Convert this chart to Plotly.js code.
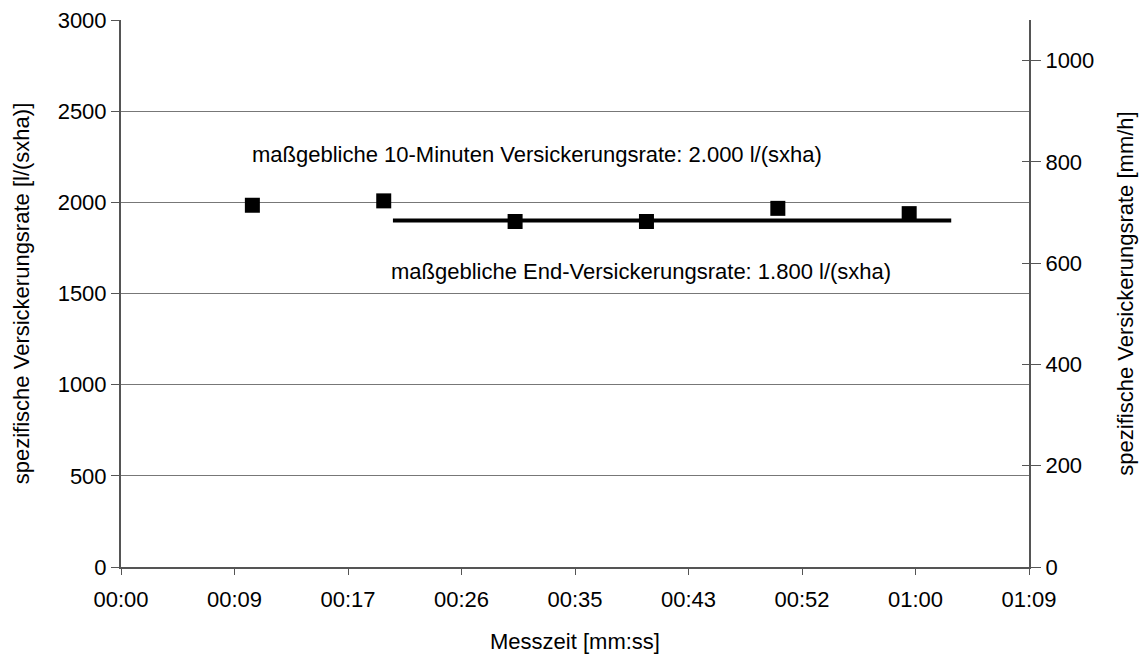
<!DOCTYPE html>
<html>
<head>
<meta charset="utf-8">
<script src="https://cdn.plot.ly/plotly-3.0.1.min.js"></script>
<style>html,body{margin:0;padding:0;background:#fff;}#chart{width:1145px;height:657px;}</style>
</head>
<body>
<div id="chart"></div>
<script>
// Measurement times (seconds) and specific infiltration rate [l/(s x ha)]
const measTimeSec = [10, 20, 30, 40, 50, 60];
const infiltrationRate = [1984, 2008, 1895, 1895, 1967, 1938];

// Final infiltration rate line
const finalLineTimeSec = [20.7, 63.2];
const finalLineRate = [1900, 1900];

// X-axis ticks (Excel time step 0.0001 d = 8.64 s)
const xTickSec = [0, 8.64, 17.28, 25.92, 34.56, 43.2, 51.84, 60.48, 69.12];
const xTickLabels = ["00:00", "00:09", "00:17", "00:26", "00:35", "00:43", "00:52", "01:00", "01:09"];

// Right axis ticks [mm/h]
const rightTicks = [0, 200, 400, 600, 800, 1000];

const annotationTexts = [
  "maßgebliche 10-Minuten Versickerungsrate: 2.000 l/(sxha)",
  "maßgebliche End-Versickerungsrate: 1.800 l/(sxha)"
];

const FONT = "'Liberation Sans', Arial, sans-serif";
const fontSize = 22;

const traces = [
  {
    x: finalLineTimeSec, y: finalLineRate, type: "scatter", mode: "lines",
    line: {color: "#000", width: 4}, hoverinfo: "skip", showlegend: false
  },
  {
    x: measTimeSec, y: infiltrationRate, type: "scatter", mode: "markers",
    marker: {symbol: "square", size: 15, color: "#000"}, showlegend: false
  },
  {x: [0], y: [0], yaxis: "y2", mode: "markers", marker: {opacity: 0}, hoverinfo: "skip", showlegend: false},
  {x: [0], y: [0], yaxis: "y3", mode: "markers", marker: {opacity: 0}, hoverinfo: "skip", showlegend: false}
];

const layout = {
  width: 1145, height: 657,
  margin: {l: 121, r: 116, t: 20, b: 90},
  paper_bgcolor: "#fff", plot_bgcolor: "#fff",
  font: {family: FONT, size: fontSize, color: "#000"},
  showlegend: false,
  xaxis: {
    range: [0, 69.12],
    tickvals: xTickSec, ticktext: xTickLabels,
    ticks: "outside", ticklen: 6, tickcolor: "#555", tickwidth: 1,
    ticklabelstandoff: 6,
    showline: true, linecolor: "#555", linewidth: 2,
    showgrid: false, zeroline: false,
    tickfont: {family: FONT, size: fontSize},
    title: {text: "Messzeit [mm:ss]", font: {family: FONT, size: fontSize}, standoff: 22}
  },
  yaxis: {
    range: [0, 3000], dtick: 500, tick0: 0,
    ticks: "outside", ticklen: 8, tickcolor: "#555", tickwidth: 1,
    showline: true, linecolor: "#555", linewidth: 2,
    showgrid: true, gridcolor: "#777", gridwidth: 1,
    zeroline: false,
    tickfont: {family: FONT, size: fontSize},
    title: {text: "spezifische Versickerungsrate [l/(sxha)]", font: {family: FONT, size: fontSize}, standoff: 22}
  },
  yaxis2: {
    overlaying: "y", side: "right", anchor: "x",
    range: [0, 1080], tickvals: rightTicks,
    ticks: "outside", ticklen: 10, tickcolor: "#555", tickwidth: 1,
    showline: true, linecolor: "#555", linewidth: 2,
    showgrid: false, zeroline: false,
    tickfont: {family: FONT, size: fontSize},
    title: {text: "spezifische Versickerungsrate [mm/h]", font: {family: FONT, size: fontSize}, standoff: 24}
  },
  yaxis3: {
    overlaying: "y", side: "right", anchor: "x",
    range: [0, 1080], tickvals: rightTicks,
    ticks: "inside", ticklen: 7, tickcolor: "#555", tickwidth: 1,
    showticklabels: false, showline: false, showgrid: false, zeroline: false
  },
  annotations: [
    {x: 31.7, y: 2265, xref: "x", yref: "y", text: annotationTexts[0], showarrow: false,
     font: {family: FONT, size: fontSize, color: "#000"}},
    {x: 39.6, y: 1620, xref: "x", yref: "y", text: annotationTexts[1], showarrow: false,
     font: {family: FONT, size: fontSize, color: "#000"}}
  ]
};

Plotly.newPlot("chart", traces, layout, {displayModeBar: false, staticPlot: true});
</script>
</body>
</html>
